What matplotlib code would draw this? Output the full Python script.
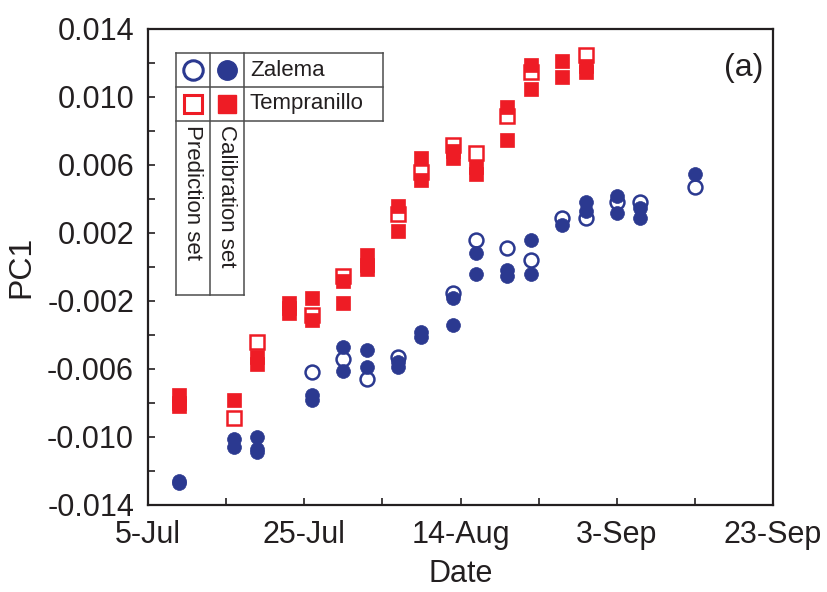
import matplotlib
matplotlib.use("Agg")
import matplotlib.pyplot as plt
import matplotlib.dates as mdates
from matplotlib.lines import Line2D
from matplotlib.ticker import FuncFormatter, MultipleLocator
import datetime as dt

plt.rcParams['font.family'] = ['Liberation Sans', 'DejaVu Sans']
plt.rcParams['axes.unicode_minus'] = False

YEAR = 2009

# ---- Data ----
temp_cal_dates = ['07-09', '07-09', '07-09', '07-16', '07-19', '07-19', '07-23', '07-23', '07-23',
                  '07-26', '07-26', '07-30', '07-30', '08-02', '08-02', '08-02', '08-06', '08-06',
                  '08-09', '08-09', '08-13', '08-13', '08-16', '08-16', '08-20', '08-20',
                  '08-23', '08-23', '08-27', '08-27', '08-30', '08-30']
temp_cal_vals = [-0.0075, -0.0080, -0.0082, -0.0078, -0.0053, -0.0057, -0.0021, -0.0024, -0.0027,
                 -0.0018, -0.0031, -0.0008, -0.0021, 0.0007, 0.0001, -0.0001, 0.0036, 0.0021,
                 0.0064, 0.0051, 0.0068, 0.0064, 0.0059, 0.0055, 0.0094, 0.0075,
                 0.0119, 0.0105, 0.0121, 0.0112, 0.0118, 0.0115]

temp_pred_dates = ['07-16', '07-19', '07-26', '07-30', '08-06', '08-09', '08-13', '08-16',
                   '08-20', '08-23', '08-30']
temp_pred_vals = [-0.0089, -0.0044, -0.0028, -0.0005, 0.0031, 0.0056, 0.0072, 0.0067,
                  0.0089, 0.0115, 0.0125]

zal_cal_dates = ['07-09', '07-09', '07-16', '07-16', '07-19', '07-19', '07-19', '07-26', '07-26',
                 '07-30', '07-30', '08-02', '08-02', '08-06', '08-06', '08-09', '08-09',
                 '08-13', '08-13', '08-16', '08-16', '08-20', '08-20', '08-23', '08-23',
                 '08-27', '08-30', '08-30', '09-03', '09-03', '09-06', '09-06', '09-13']
zal_cal_vals = [-0.0126, -0.0127, -0.0101, -0.0106, -0.0100, -0.0107, -0.0109, -0.0075, -0.0078,
                -0.0047, -0.0061, -0.0049, -0.0059, -0.0056, -0.0059, -0.0038, -0.0041,
                -0.0018, -0.0034, 0.0008, -0.0004, -0.0002, -0.0005, 0.0016, -0.0004,
                0.0025, 0.0038, 0.0033, 0.0042, 0.0032, 0.0035, 0.0029, 0.0055]

zal_pred_dates = ['07-26', '07-30', '08-02', '08-06', '08-13', '08-16', '08-20', '08-23',
                  '08-27', '08-30', '09-03', '09-06', '09-13']
zal_pred_vals = [-0.0062, -0.0054, -0.0066, -0.0053, -0.0015, 0.0016, 0.0011, 0.0004,
                 0.0029, 0.0029, 0.0038, 0.0038, 0.0047]

y_ticks = [-0.014, -0.010, -0.006, -0.002, 0.002, 0.006, 0.010, 0.014]
x_start, x_end = '07-05', '09-23'

BLUE = '#2B3990'
RED = '#EE1C25'
INK = '#231F20'


def to_dates(lst):
    return [dt.datetime.strptime(f"{YEAR}-{s}", "%Y-%m-%d") for s in lst]


W, H = 828, 592
fig = plt.figure(figsize=(W / 100, H / 100), dpi=100)
ax = fig.add_axes([148 / W, 1 - 505 / H, (773 - 148) / W, (505 - 29) / H])

ms = 10
ax.plot(to_dates(zal_pred_dates), zal_pred_vals, 'o', ms=ms, mfc='white', mec=BLUE, mew=1.8, ls='none', zorder=3)
ax.plot(to_dates(temp_pred_dates), temp_pred_vals, 's', ms=ms, mfc='white', mec=RED, mew=1.8, ls='none', zorder=3)
ax.plot(to_dates(zal_cal_dates), zal_cal_vals, 'o', ms=ms, mfc=BLUE, mec=BLUE, mew=0.5, ls='none', zorder=4)
ax.plot(to_dates(temp_cal_dates), temp_cal_vals, 's', ms=ms, mfc=RED, mec=RED, mew=0.5, ls='none', zorder=4)

xs, xe = to_dates([x_start, x_end])
ax.set_xlim(xs, xe)
ax.set_ylim(y_ticks[0], y_ticks[-1])

ax.set_yticks(y_ticks)
ax.yaxis.set_minor_locator(MultipleLocator(0.002))
ax.yaxis.set_major_formatter(FuncFormatter(lambda v, p: f"{v:.3f}"))

major_x = [xs + dt.timedelta(days=20 * i) for i in range(5)]
minor_x = [xs + dt.timedelta(days=10 * i) for i in range(9)]
ax.set_xticks(major_x)
ax.set_xticks(minor_x, minor=True)
ax.xaxis.set_major_formatter(FuncFormatter(
    lambda v, p: (lambda d: f"{d.day}-{d.strftime('%b')}")(mdates.num2date(v))))

ax.tick_params(which='both', direction='in', length=5, width=1.2, labelsize=22, color=INK)
ax.tick_params(axis='x', pad=11)
ax.tick_params(axis='y', pad=10)
for s in ax.spines.values():
    s.set_linewidth(1.6)
    s.set_color(INK)

ax.set_xlabel('Date', fontsize=22, color=INK, labelpad=6)
ax.set_ylabel('PC1', fontsize=23, color=INK, labelpad=8)
for lbl in ax.get_xticklabels() + ax.get_yticklabels():
    lbl.set_color(INK)

ax.text(0.985, 0.95, '(a)', transform=ax.transAxes, ha='right', va='top', fontsize=23, color=INK)

# ---- legend table ----
def fx(px):
    return px / W


def fy(py):
    return 1 - py / H


lc = '#4D4D4D'
segs = [
    ((176, 53), (383, 53)), ((176, 87), (383, 87)), ((176, 121), (383, 121)),
    ((383, 53), (383, 121)),
    ((176, 53), (176, 295)), ((210, 53), (210, 295)), ((244, 53), (244, 295)),
    ((176, 295), (244, 295)),
]
for (x0, y0), (x1, y1) in segs:
    fig.add_artist(Line2D([fx(x0), fx(x1)], [fy(y0), fy(y1)], transform=fig.transFigure, color=lc, lw=1.1))

lms = 14
fig.add_artist(Line2D([fx(193)], [fy(70)], marker='o', ms=lms, mfc='white', mec=BLUE, mew=2.2, transform=fig.transFigure))
fig.add_artist(Line2D([fx(227)], [fy(70)], marker='o', ms=lms, mfc=BLUE, mec=BLUE, transform=fig.transFigure))
fig.add_artist(Line2D([fx(193)], [fy(104)], marker='s', ms=lms - 0.5, mfc='white', mec=RED, mew=2.2, transform=fig.transFigure))
fig.add_artist(Line2D([fx(227)], [fy(104)], marker='s', ms=lms - 0.5, mfc=RED, mec=RED, transform=fig.transFigure))

fig.text(fx(250), fy(70), 'Zalema', fontsize=16, va='center', ha='left', color=INK)
fig.text(fx(250), fy(104), 'Tempranillo', fontsize=16, va='center', ha='left', color=INK)
fig.text(fx(193), fy(125), 'Prediction set', fontsize=16, rotation=-90, va='top', ha='center', color=INK)
fig.text(fx(227), fy(125), 'Calibration set', fontsize=16, rotation=-90, va='top', ha='center', color=INK)

fig.savefig('out.png', dpi=100)
